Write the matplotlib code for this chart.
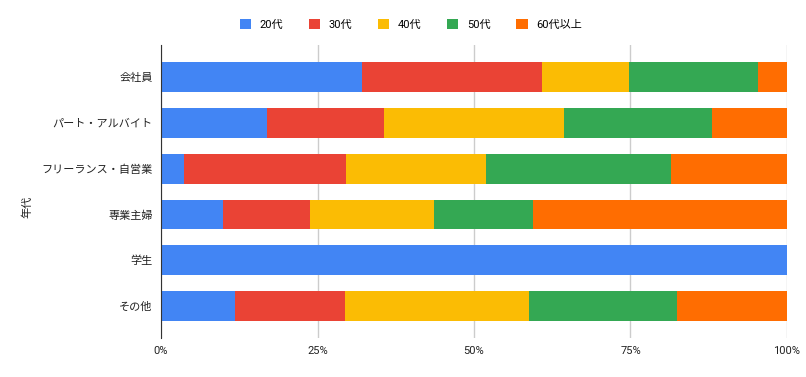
import matplotlib.pyplot as plt
import numpy as np

plt.rcParams['font.family'] = ['Roboto', 'Noto Sans CJK JP', 'DejaVu Sans']

categories = ["会社員", "パート・アルバイト", "フリーランス・自営業", "専業主婦", "学生", "その他"]
series_names = ["20代", "30代", "40代", "50代", "60代以上"]
colors = ["#4285F4", "#EA4335", "#FBBC04", "#34A853", "#FF6D01"]

v20 = [32.1, 16.9, 3.7, 9.9, 100.0, 11.8]
v30 = [28.7, 18.7, 25.8, 13.9, 0.0, 17.6]
v40 = [14.0, 28.8, 22.4, 19.8, 0.0, 29.4]
v50 = [20.5, 23.7, 29.6, 15.8, 0.0, 23.6]
v60 = [4.7, 11.9, 18.5, 40.6, 0.0, 17.6]
series = [v20, v30, v40, v50, v60]

fig = plt.figure(figsize=(8.06, 3.77), dpi=100)
ax = fig.add_axes([0.1998, 0.1034, 0.7766, 0.7772])

y = np.arange(len(categories))
left = np.zeros(len(categories))
for name, vals, c in zip(series_names, series, colors):
    vals = np.array(vals)
    ax.barh(y, vals, left=left, height=0.65, color=c, label=name, zorder=3)
    left += vals

ax.set_ylim(len(categories) - 0.3, -0.7)
ax.set_xlim(0, 100)
ax.set_yticks(y)
ax.set_yticklabels(categories, fontsize=8, color="#222222")
ax.set_xticks([0, 25, 50, 75, 100])
ax.set_xticklabels(["0%", "25%", "50%", "75%", "100%"], fontsize=8, color="#222222")
ax.tick_params(length=0, pad=6)
ax.grid(axis="x", color="#cccccc", linewidth=1, zorder=0)
for s in ["top", "right", "bottom"]:
    ax.spines[s].set_visible(False)
ax.spines["left"].set_color("#333333")
ax.spines["left"].set_zorder(4)

# y-axis title placed in figure coords so it stays inside the canvas
fig.text(27 / 806, 0.45, "年代", rotation=90, fontsize=8, color="#222222",
         ha="center", va="center")

fig.legend(loc="center", bbox_to_anchor=(0.51, 0.935), ncol=5, frameon=False,
           fontsize=8, handlelength=1.0, handleheight=1.0, columnspacing=2.3,
           handletextpad=0.8)

plt.savefig("out.png", dpi=100)
